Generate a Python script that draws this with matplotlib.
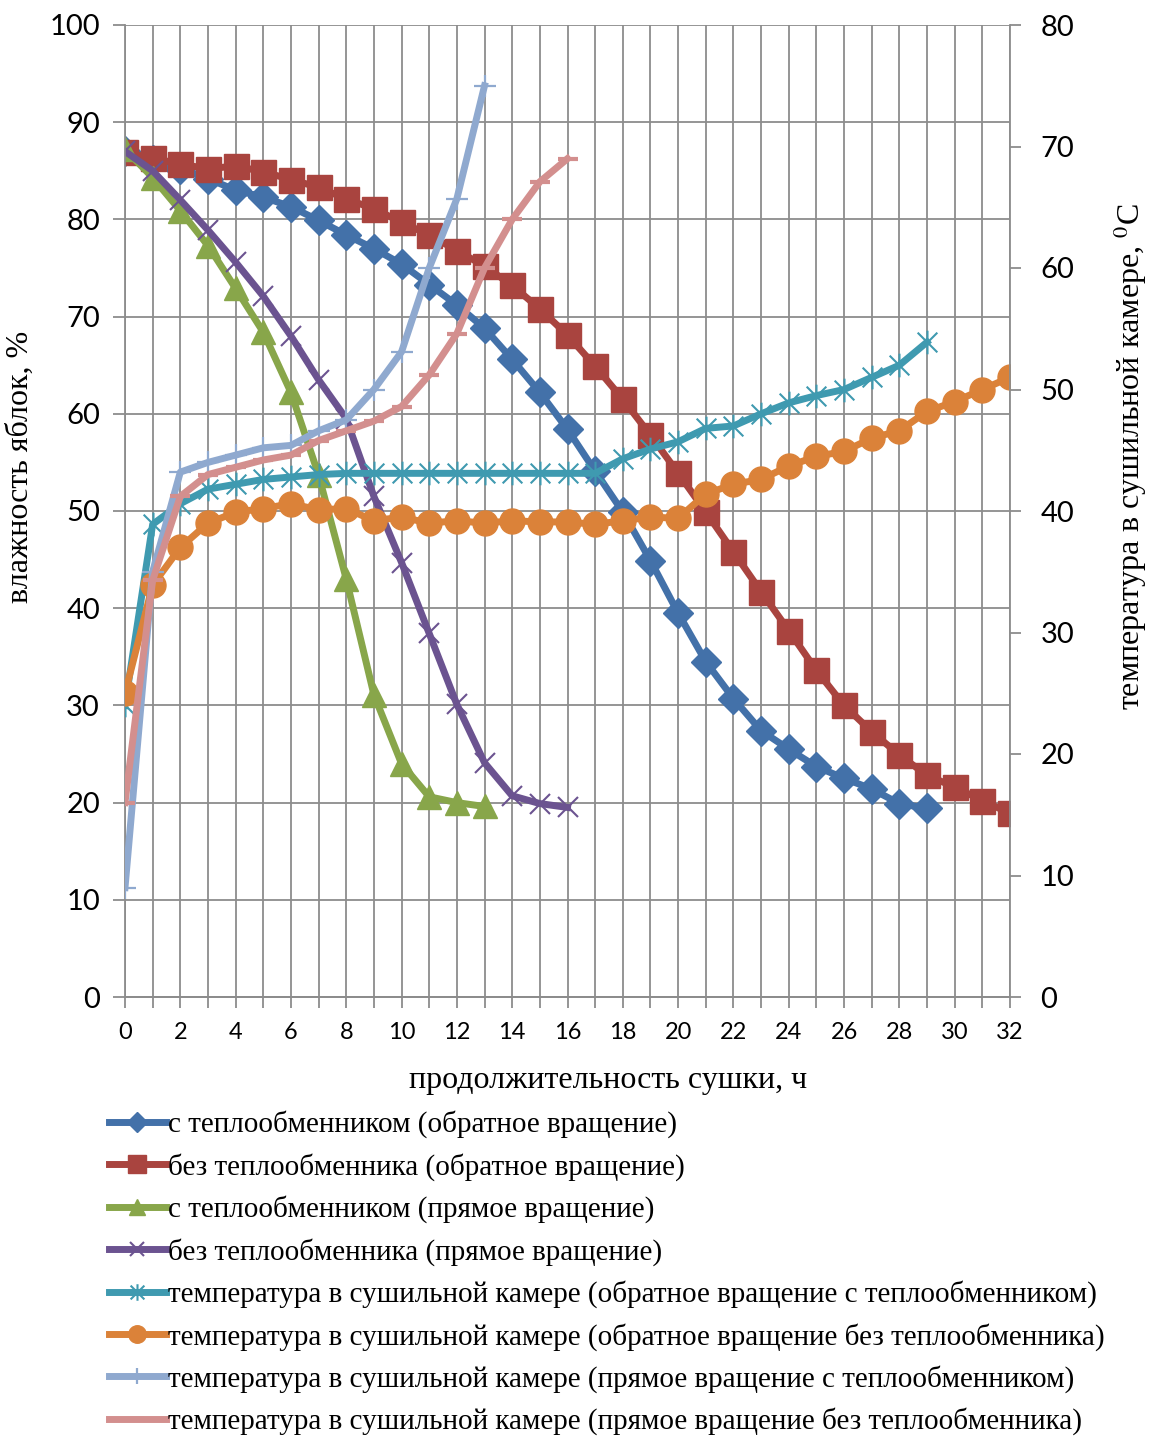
import matplotlib
matplotlib.use('Agg')
import matplotlib.pyplot as plt  # noqa: E402
from matplotlib.path import Path  # noqa: E402

# drying time, h
hours = list(range(33))

# apple moisture, %
hum_rev_hx = [87.0, 86.1, 85.2, 84.2, 83.0, 82.3, 81.3, 79.9, 78.4, 77.0,
              75.4, 73.3, 71.2, 68.8, 65.6, 62.2, 58.4, 54.1, 49.9, 44.9,
              39.5, 34.5, 30.7, 27.4, 25.5, 23.7, 22.5, 21.4, 19.9, 19.4]
hum_rev_nohx = [86.9, 86.3, 85.7, 85.2, 85.5, 84.9, 84.1, 83.3, 82.1, 81.1,
                79.7, 78.4, 76.8, 75.2, 73.2, 70.8, 68.1, 64.9, 61.5, 57.8,
                53.9, 49.9, 45.8, 41.7, 37.7, 33.6, 30.0, 27.3, 24.9, 22.8,
                21.6, 20.2, 18.9]
hum_fwd_hx = [87.2, 84.3, 80.9, 77.3, 72.9, 68.4, 62.2, 53.7, 43.0, 31.1,
              24.0, 20.6, 20.0, 19.6]
hum_fwd_nohx = [87.0, 85.0, 82.0, 78.9, 75.6, 72.1, 68.0, 63.5, 59.5, 51.5,
                44.7, 37.4, 30.1, 24.1, 20.7, 19.9, 19.5]

# drying chamber temperature, deg C
temp_rev_hx = [24.0, 38.9, 40.6, 41.8, 42.2, 42.6, 42.8, 43.0, 43.1, 43.1,
               43.1, 43.1, 43.1, 43.1, 43.1, 43.1, 43.1, 43.1, 44.3, 45.1,
               45.7, 46.8, 47.0, 48.0, 48.9, 49.5, 50.0, 51.0, 52.0, 53.9]
temp_rev_nohx = [25.0, 33.9, 37.0, 39.0, 39.9, 40.2, 40.6, 40.1, 40.2, 39.2,
                 39.5, 39.0, 39.2, 39.0, 39.2, 39.1, 39.1, 38.9, 39.2, 39.5,
                 39.4, 41.4, 42.2, 42.6, 43.7, 44.5, 44.9, 46.0, 46.6, 48.2,
                 49.0, 50.0, 51.0]
temp_fwd_hx = [9.0, 35.0, 43.2, 44.0, 44.6, 45.2, 45.4, 46.6, 47.5, 50.0,
               53.1, 60.0, 65.7, 75.0]
temp_fwd_nohx = [16.0, 34.3, 41.2, 43.0, 43.6, 44.2, 44.6, 45.8, 46.6, 47.4,
                 48.6, 51.2, 54.6, 60.0, 64.0, 67.1, 69.0]

labels = [
    'с теплообменником (обратное вращение)',
    'без теплообменника (обратное вращение)',
    'с теплообменником (прямое вращение)',
    'без теплообменника (прямое вращение)',
    'температура в сушильной камере (обратное вращение с теплообменником)',
    'температура в сушильной камере (обратное вращение без теплообменника)',
    'температура в сушильной камере (прямое вращение с теплообменником)',
    'температура в сушильной камере (прямое вращение без теплообменника)',
]

# Excel-style "x with a vertical bar" marker
star = Path([(-1, -1), (1, 1), (-1, 1), (1, -1), (0, -1.2), (0, 1.2)],
            [Path.MOVETO, Path.LINETO, Path.MOVETO, Path.LINETO,
             Path.MOVETO, Path.LINETO])

plt.rcParams['mathtext.fontset'] = 'stix'
SERIF = 'Liberation Serif'
SANS = 'Lato'
GRID = '#8c8c8c'
LW = 5

fig = plt.figure(figsize=(11.5, 14.38), dpi=100)
ax = fig.add_axes([125 / 1150, 1 - 997 / 1438, 885 / 1150, 972 / 1438])
ax2 = ax.twinx()

lines = []
lines += ax.plot(hours[:len(hum_rev_hx)], hum_rev_hx, color='#4371a9', lw=LW,
                 marker='D', ms=15, mec='#4371a9')
lines += ax.plot(hours[:len(hum_rev_nohx)], hum_rev_nohx, color='#a9443f', lw=LW,
                 marker='s', ms=18, mec='#a9443f')
lines += ax.plot(hours[:len(hum_fwd_hx)], hum_fwd_hx, color='#88a64a', lw=LW,
                 marker='^', ms=17, mec='#88a64a')
lines += ax.plot(hours[:len(hum_fwd_nohx)], hum_fwd_nohx, color='#6b5390', lw=LW,
                 marker='x', ms=15, mew=1.5, mec='#6b5390')

lines += ax2.plot(hours[:len(temp_rev_hx)], temp_rev_hx, color='#3f9ab0', lw=LW,
                  marker=star, ms=17, mew=1.5, mec='#3f9ab0')
lines += ax2.plot(hours[:len(temp_rev_nohx)], temp_rev_nohx, color='#db8239', lw=LW,
                  marker='o', ms=18, mec='#db8239')
lines += ax2.plot(hours[:len(temp_fwd_hx)], temp_fwd_hx, color='#8fa9cf', lw=LW,
                  marker='+', ms=16, mew=1.6, mec='#8fa9cf')
lines += ax2.plot(hours[:len(temp_fwd_nohx)], temp_fwd_nohx, color='#d38f8e', lw=LW,
                  marker='_', ms=15, mew=3, mec='#d38f8e')

ax.set_xlim(0, 32)
ax.set_ylim(0, 100)
ax2.set_ylim(0, 80)
ax.set_xticks(range(0, 33))
ax.set_xticklabels([str(h) if h % 2 == 0 else '' for h in range(33)])
ax.set_yticks(range(0, 101, 10))
ax2.set_yticks(range(0, 81, 10))

ax.grid(True, color=GRID, lw=1.3)
ax.set_axisbelow(True)
for a in (ax, ax2):
    a.spines['top'].set_visible(False)
    for s in a.spines.values():
        s.set_color(GRID)
        s.set_linewidth(1.3)
ax.spines['right'].set_visible(False)
ax2.spines['left'].set_visible(False)

ax.tick_params(axis='x', length=8, width=1.3, color=GRID, pad=10, labelsize=17)
ax.tick_params(axis='y', length=9, width=1.3, color=GRID, pad=9, labelsize=21)
ax2.tick_params(axis='y', length=8, width=1.3, color=GRID, pad=14, labelsize=21)
for t in ax.get_xticklabels() + ax.get_yticklabels() + ax2.get_yticklabels():
    t.set_fontfamily(SANS)

ax.set_xlabel('продолжительность сушки, ч', fontfamily=SERIF, fontsize=23)
ax.xaxis.set_label_coords(0.546, -0.071)
ax.set_ylabel('влажность яблок, %', fontfamily=SERIF, fontsize=23)
ax.yaxis.set_label_coords(-0.102, 0.545)
ax2.set_ylabel('температура в сушильной камере, $^{0}$C', fontfamily=SERIF,
               fontsize=23)
ax2.yaxis.set_label_coords(1.115, 0.556)

fig.legend(lines, labels, loc='upper left',
           bbox_to_anchor=(97 / 1150, 1 - 1099 / 1438), frameon=False,
           prop={'family': SERIF, 'size': 21}, handlelength=1.95,
           handletextpad=0.1, labelspacing=0.5, borderaxespad=0,
           markerscale=0.7)

fig.savefig('out.png', dpi=100)
